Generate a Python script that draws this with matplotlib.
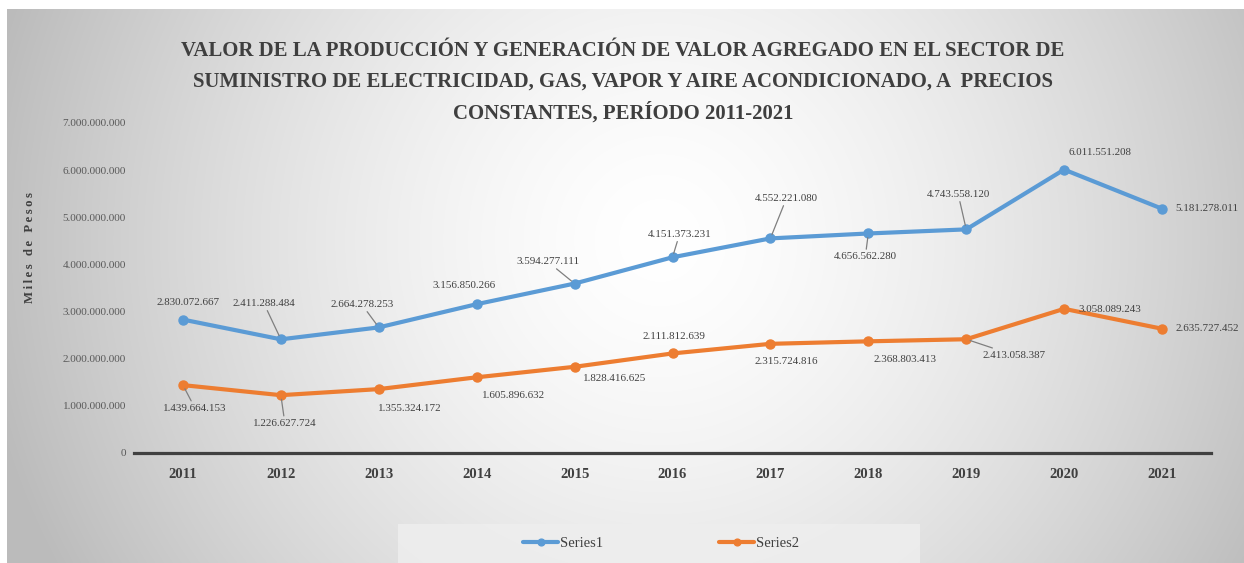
import numpy as np
import matplotlib
matplotlib.use("Agg")
import matplotlib.pyplot as plt
from matplotlib.patches import Rectangle
from matplotlib.ticker import FuncFormatter

plt.rcParams['font.family'] = ['Liberation Serif', 'DejaVu Serif']

# ---------------- data ----------------
years = ["2011", "2012", "2013", "2014", "2015", "2016", "2017", "2018", "2019", "2020", "2021"]
series1 = [2830072667, 2411288484, 2664278253, 3156850266, 3594277111, 4151373231,
           4552221080, 4656562280, 4743558120, 6011551208, 5181278011]
series2 = [1439664153, 1226627724, 1355324172, 1605896632, 1828416625, 2111812639,
           2315724816, 2368803413, 2413058387, 3058089243, 2635727452]
series_names = ["Series1", "Series2"]
title_lines = ["VALOR DE LA PRODUCCIÓN Y GENERACIÓN DE VALOR AGREGADO EN EL SECTOR DE",
               "SUMINISTRO DE ELECTRICIDAD, GAS, VAPOR Y AIRE ACONDICIONADO, A  PRECIOS",
               "CONSTANTES, PERÍODO 2011-2021"]
y_label = "Miles de Pesos"
y_ticks = [0, 1e9, 2e9, 3e9, 4e9, 5e9, 6e9, 7e9]

# label offsets (pixels) and leader-line flags (layout only)
off1 = [(5, 17), (-17, 36), (-17, 23), (-13, 19), (-27, 22), (7, 23),
        (16, 40), (-3, -23), (-8, 35), (36, 17), (45, 0)]
lead1 = [False, True, True, False, True, True, True, True, True, False, False]
off2 = [(12, -23), (4, -28), (31, -19), (37, -18), (40, -12), (1, 17),
        (16, -18), (37, -18), (48, -16), (46, -1), (45, 0)]
lead2 = [True, True, False, False, False, False, False, False, True, False, False]

W, H = 1244, 563
fig = plt.figure(figsize=(W / 100, H / 100), dpi=100)
fig.patch.set_facecolor('white')

def fx(px):
    return px / W

def fy(py):
    return (H - py) / H

# ---------------- background gradient ----------------
bg = fig.add_axes([fx(7), 0, 1 - fx(7), fy(9)])
bg.set_axis_off()
gx, gy = np.meshgrid(np.arange(7, W), np.arange(9, H))
cx, cy, r = 660, 240, 690
t = np.clip(np.sqrt((gx - cx) ** 2 + (gy - cy) ** 2) / r, 0, 1)
val = (255 - 68 * t ** 1.5) / 255.0
img = np.dstack([val, val, val])
bg.imshow(img, aspect='auto', extent=[0, 1, 0, 1], origin='upper', interpolation='bilinear')
bg.set_xlim(0, 1)
bg.set_ylim(0, 1)

# ---------------- main axes ----------------
ax = fig.add_axes([fx(134), fy(453), fx(1211) - fx(134), fy(123) - fy(453)])
ax.patch.set_alpha(0)
x = np.arange(len(years))
c1, c2 = '#5B9BD5', '#ED7D31'
l1, = ax.plot(x, series1, color=c1, lw=3.0, marker='o', ms=6.5, label=series_names[0],
              solid_capstyle='round', zorder=3)
l2, = ax.plot(x, series2, color=c2, lw=3.0, marker='o', ms=6.5, label=series_names[1],
              solid_capstyle='round', zorder=3)
ax.set_xlim(-0.5, len(years) - 0.5)
ax.set_ylim(0, 7e9)
ax.set_yticks(y_ticks)
ax.yaxis.set_major_formatter(FuncFormatter(lambda v, p: f"{int(round(v)):,}".replace(",", ".")))
ax.set_xticks(x)
ax.set_xticklabels(years)
for s in ['left', 'right', 'top']:
    ax.spines[s].set_visible(False)
ax.spines['bottom'].set_color('#404040')
ax.spines['bottom'].set_linewidth(2.3)
ax.tick_params(axis='y', length=0, pad=5.8, labelsize=8.0, labelcolor='#595959')
ax.tick_params(axis='x', length=0, pad=11, labelsize=10.5, labelcolor='#404040')
for lab in ax.get_xticklabels():
    lab.set_fontweight('bold')

def fmt(v):
    return f"{v:,}".replace(",", ".")

for series, offs, leads in ((series1, off1, lead1), (series2, off2, lead2)):
    for i, v in enumerate(series):
        kw = {}
        if leads[i]:
            kw['arrowprops'] = dict(arrowstyle='-', color='#7F7F7F', lw=0.9, shrinkA=0, shrinkB=3)
        ax.annotate(fmt(v), (x[i], v), xytext=offs[i], textcoords='offset pixels',
                    ha='center', va='center', fontsize=7.9, color='#404040', zorder=4, **kw)

# ---------------- y label ----------------
fig.text(fx(30), fy(248), "\u2009".join(list(y_label)), rotation=90, ha='center', va='center',
         fontsize=9.2, fontweight='bold', color='#404040',
         family=['Liberation Serif', 'DejaVu Serif'])

# ---------------- title ----------------
probe = fig.text(0, 0, title_lines[0], fontsize=15, fontweight='bold')
rend = fig.canvas.get_renderer()
wprobe = probe.get_window_extent(rend).width
probe.remove()
tsize = 15 * 885 / wprobe
for line, base in zip(title_lines, [56, 87, 119]):
    fig.text(fx(623), fy(base), line, ha='center', va='baseline', fontsize=tsize,
             fontweight='bold', color='#3F3F3F')

# ---------------- legend ----------------
fig.patches.append(Rectangle((fx(398), fy(563)), fx(920) - fx(398), fy(524) - fy(563),
                             transform=fig.transFigure, facecolor='#EEEEEE', edgecolor='none',
                             alpha=0.85, zorder=1))
leg = fig.legend(handles=[l1, l2], loc='center', bbox_to_anchor=(fx(661), fy(543)),
                 ncol=2, frameon=False, fontsize=10.5, handlelength=2.4, handletextpad=0.1,
                 columnspacing=8.0, labelcolor='#404040', markerscale=0.75)

fig.savefig("out.png", dpi=100, facecolor=fig.get_facecolor())
